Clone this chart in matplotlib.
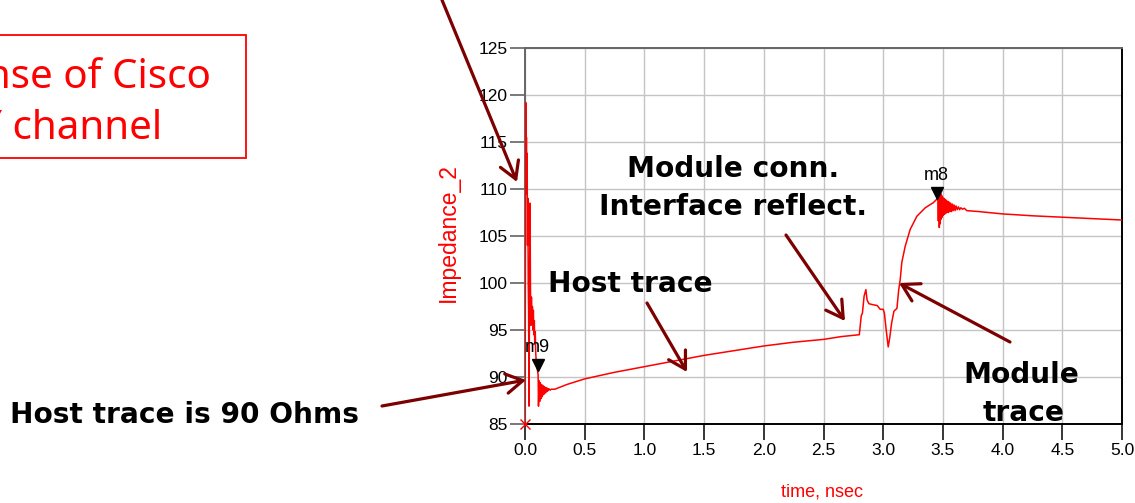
import matplotlib
matplotlib.use('Agg')
import matplotlib.pyplot as plt
from matplotlib.patches import FancyArrowPatch, Rectangle
from matplotlib.transforms import offset_copy

W, H = 1135, 503
RED = '#ff0000'
DARK = '#7d0000'

# TDR impedance trace, time in ns, impedance in ohms
t_ns = [0.000, 0.006, 0.009, 0.012, 0.015, 0.018, 0.021, 0.024, 0.027, 0.030,
        0.034, 0.038, 0.042, 0.046, 0.050, 0.054, 0.058, 0.062, 0.066, 0.070,
        0.074, 0.078, 0.082, 0.086, 0.090, 0.095, 0.100, 0.106, 0.110, 0.113,
        0.118, 0.123, 0.128, 0.133, 0.138, 0.143, 0.148, 0.153, 0.158, 0.163,
        0.168, 0.173, 0.178, 0.183, 0.188, 0.193, 0.200, 0.210, 0.220,
        0.25, 0.35, 0.50, 0.75, 1.00, 1.25, 1.50, 1.75, 2.00, 2.25, 2.50, 2.65, 2.80,
        2.816, 2.826, 2.840, 2.855, 2.865, 2.880, 2.910, 2.950, 2.975, 3.000,
        3.010, 3.025, 3.042, 3.055, 3.070, 3.090, 3.115, 3.130, 3.142, 3.156,
        3.184, 3.226, 3.282, 3.352, 3.420, 3.448,
        3.458, 3.462, 3.466, 3.470, 3.474, 3.478, 3.482, 3.486, 3.490, 3.494,
        3.498, 3.503, 3.508, 3.513, 3.518, 3.523, 3.528, 3.534, 3.540, 3.546,
        3.552, 3.558, 3.565, 3.572, 3.579, 3.586, 3.594, 3.602, 3.610, 3.620,
        3.630, 3.640, 3.650, 3.665, 3.680, 3.700,
        3.80, 4.00, 4.25, 4.50, 4.75, 5.00]
z_ohm = [85.0, 119.2, 111.0, 115.5, 109.5, 113.8, 104.0, 109.0, 100.0, 97.0,
         86.9, 100.0, 108.5, 99.0, 95.5, 98.5, 96.0, 97.5, 95.0, 97.1,
         94.5, 96.0, 93.5, 94.8, 92.5, 91.5, 91.0, 90.6, 90.2, 86.9,
         89.6, 87.4, 89.4, 87.7, 89.2, 87.9, 89.1, 88.1, 89.0, 88.2,
         88.9, 88.35, 88.85, 88.45, 88.8, 88.55, 88.75, 88.6, 88.7,
         88.7, 89.2, 89.8, 90.5, 91.1, 91.7, 92.3, 92.8, 93.3, 93.7, 94.0, 94.3, 94.5,
         96.5, 96.8, 98.6, 99.3, 98.2, 97.8, 97.7, 97.6, 97.2, 97.2,
         96.8, 95.0, 93.2, 94.2, 95.7, 97.0, 97.3, 99.3, 100.3, 102.2,
         103.9, 105.7, 107.1, 108.0, 108.55, 108.9,
         109.3, 106.6, 110.0, 105.9, 109.8, 106.3, 109.5, 106.8, 109.3, 107.0,
         109.1, 107.2, 109.0, 107.3, 108.9, 107.4, 108.8, 107.5, 108.7, 107.5,
         108.6, 107.6, 108.5, 107.6, 108.4, 107.7, 108.3, 107.7, 108.2, 107.8,
         108.1, 107.8, 108.0, 107.85, 107.95, 107.7,
         107.6, 107.35, 107.15, 107.0, 106.85, 106.7]

marker_names = ['m9', 'm8']
marker_times = [0.106, 3.448]

x_ticks = [0.0, 0.5, 1.0, 1.5, 2.0, 2.5, 3.0, 3.5, 4.0, 4.5, 5.0]
y_ticks = [85, 90, 95, 100, 105, 110, 115, 120, 125]


def fx(x):
    return x / W


def fy(y):
    return 1 - y / H


fig = plt.figure(figsize=(W / 100, H / 100), dpi=100)
ax = fig.add_axes([fx(525), fy(424), fx(1122) - fx(525), fy(48) - fy(424)])

ax.plot(t_ns, z_ohm, color=RED, lw=1.1, zorder=3)
ax.plot([t_ns[0]], [z_ohm[0]], marker='x', color=RED, ms=7, mew=1.0,
        clip_on=False, zorder=4)

# markers sit on the trace, tip pointing down at the sample
ms = 9
for name, tm in zip(marker_names, marker_times):
    i = min(range(len(t_ns)), key=lambda k: abs(t_ns[k] - tm))
    tr = offset_copy(ax.transData, fig=fig, y=ms / 2, units='points')
    ax.plot([t_ns[i]], [z_ohm[i]], marker='v', color='black', ms=ms,
            transform=tr, clip_on=False, zorder=5)
    ax.annotate(name, (t_ns[i], z_ohm[i]), xytext=(0, 11), textcoords='offset points',
                ha='center', va='bottom', fontsize=13, family='Liberation Sans')

ax.set_xlim(0, 5)
ax.set_ylim(85, 125)
ax.set_xticks(x_ticks)
ax.set_yticks(y_ticks)
ax.set_xticklabels([f'{v:.1f}' for v in x_ticks])
ax.set_yticklabels([str(v) for v in y_ticks])
ax.grid(True, color='#c4c4c4', lw=1.0)
ax.set_axisbelow(True)
ax.tick_params(axis='x', direction='out', length=11.5, width=1.1, pad=2,
               labelsize=12.5, colors='black')
ax.tick_params(axis='y', direction='out', length=10.8, width=1.1, pad=1.5,
               labelsize=12.5, color='#555555')
for lab in ax.get_xticklabels() + ax.get_yticklabels():
    lab.set_family(['Liberation Sans Narrow', 'Liberation Sans'])
ax.spines['left'].set_color('#666666')
ax.spines['top'].set_color('#666666')
ax.spines['right'].set_color('black')
ax.spines['bottom'].set_color('black')
for s in ax.spines.values():
    s.set_linewidth(1.4)

fig.text(fx(448), fy(233), 'Impedance_2', rotation=90, ha='center', va='center',
         color=RED, fontsize=16.5, family='Liberation Sans')
fig.text(fx(822), fy(492), 'time, nsec', ha='center', va='center',
         color=RED, fontsize=13, family='Liberation Sans')

# title box, partly cut by the left edge
fig.add_artist(Rectangle((fx(-20), fy(158)), fx(266), fy(35) - fy(158),
                         transform=fig.transFigure, fill=False, ec=RED, lw=1.3))
fig.text(fx(211), fy(88), 'TDR response of Cisco', ha='right', va='baseline',
         color=RED, fontsize=29, family='Noto Sans')
fig.text(fx(162), fy(139), 'PHY channel', ha='right', va='baseline',
         color=RED, fontsize=29, family='Noto Sans')

bold = dict(fontsize=20.2, fontweight='bold', family='DejaVu Sans', color='black')
fig.text(fx(10), fy(423), 'Host trace is 90 Ohms', ha='left', va='baseline', **bold)
fig.text(fx(548), fy(292), 'Host trace', ha='left', va='baseline', **bold)
fig.text(fx(733), fy(177), 'Module conn.', ha='center', va='baseline', **bold)
fig.text(fx(733), fy(215), 'Interface reflect.', ha='center', va='baseline', **bold)
fig.text(fx(1021), fy(383), 'Module', ha='center', va='baseline', **bold)
fig.text(fx(1024), fy(421), 'trace', ha='center', va='baseline', **bold)

arrows = [((442, 0), (517, 182)),
          ((382, 406), (526, 380)),
          ((647, 303), (687, 372)),
          ((786, 235), (845, 321)),
          ((1010, 342), (899, 283))]
for (x0, y0), (x1, y1) in arrows:
    fig.add_artist(FancyArrowPatch((fx(x0), fy(y0)), (fx(x1), fy(y1)),
                                   transform=fig.transFigure,
                                   arrowstyle='->,head_length=12,head_width=7',
                                   mutation_scale=1, lw=2.3, color=DARK,
                                   shrinkA=0, shrinkB=0, zorder=6))

fig.savefig('out.png', dpi=100)
